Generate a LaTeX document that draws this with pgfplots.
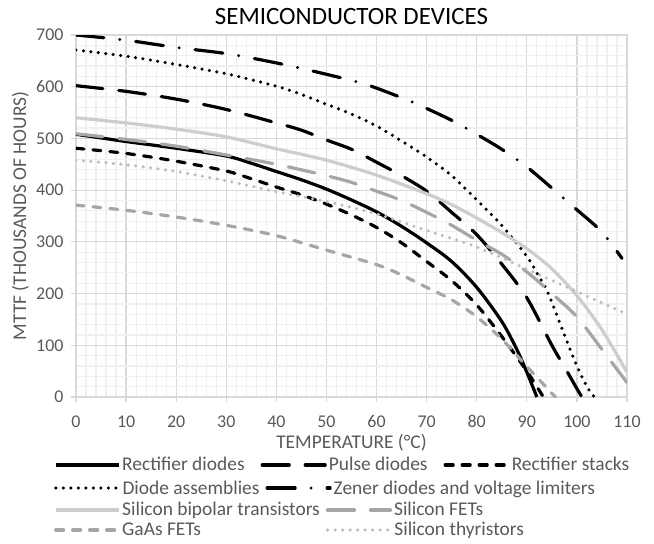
\documentclass[border=0pt]{standalone}
\usepackage{fontspec}
\setmainfont{Carlito}
\usepackage{pgfplots}
\pgfplotsset{compat=1.18}
\usepackage{pgfplotstable}

\definecolor{txt}{HTML}{595959}
\definecolor{gridmaj}{HTML}{D9D9D9}
\definecolor{gridmin}{HTML}{F0F0F0}
\definecolor{lgray}{HTML}{CDCDCD}
\definecolor{tgray}{HTML}{BDBDBD}
\definecolor{mgray}{HTML}{A6A6A6}

\tikzset{
  rd/.style={black, line width=3.2bp, solid},
  pd/.style={black, line width=3.2bp, line cap=round, dash pattern=on 27bp off 16bp},
  rs/.style={black, line width=3.2bp, line cap=round, dash pattern=on 8bp off 9bp},
  da/.style={black, line width=3.5bp, line cap=round, dash pattern=on 0bp off 7.5bp},
  zd/.style={black, line width=3.2bp, line cap=round, dash pattern=on 28bp off 16bp on 0bp off 16bp},
  sbt/.style={lgray, line width=3.2bp, solid},
  sfet/.style={mgray, line width=3.2bp, line cap=round, dash pattern=on 27bp off 16bp},
  gaas/.style={mgray, line width=3.2bp, line cap=round, dash pattern=on 8bp off 9bp},
  sthy/.style={tgray, line width=3.5bp, line cap=round, dash pattern=on 0bp off 7.5bp},
}

\pgfplotstableread{
T V
0 508
10 494
20 481
30 466
35 452
40 436
45 420
50 402
55 381
60 358
65 330
70 298
75 262
80 212
85 146
88 92
90 48
92 0
}\tRD
\pgfplotstableread{
T V
0 602
10 591
20 576
30 556
40 530
45 516
50 497
55 479
60 454
65 428
70 398
75 357
80 314
85 257
90 192
95 100
98 50
100 16
101 0
}\tPD
\pgfplotstableread{
T V
0 481
10 471
20 456
30 437
35 422
40 406
45 391
50 373
55 352
60 328
65 298
70 262
75 225
80 178
85 117
90 50
93.3 0
}\tRS
\pgfplotstableread{
T V
0 671
10 659
20 643
30 625
40 601
45 585
50 566
55 547
60 524
65 495
70 464
75 428
80 381
85 332
90 272
92 240
94 206
96 158
98 108
100 60
102 20
103.5 0
}\tDA
\pgfplotstableread{
T V
0 700
10 690
20 676
30 664
40 646
50 624
58 604
66.5 573
70 558
75 535
80 508
85 479
90 445
95 404
100 362
105 319
109 268
}\tZD
\pgfplotstableread{
T V
0 540
10 530
20 518
30 503
40 480
50 458
60 429
70 393
75 372
80 346
85 318
90 287
95 248
100 196
105 130
110 48
}\tSBT
\pgfplotstableread{
T V
0 509
10 498
20 485
30 468
40 450
50 428
55 415
60 398
65 380
70 357
75 332
80 303
85 276
90 242
95 200
100 155
105 92
110 28
}\tSFET
\pgfplotstableread{
T V
0 371
10 361
20 348
30 332
40 312
50 284
60 256
65 236
70 212
75 188
80 155
85 112
90 59
93 28
95.7 0
}\tGAAS
\pgfplotstableread{
T V
0 458
10 449
20 436
30 418
40 397
50 378
60 354
70 322
80 290
90 247
100 204
110 160
}\tSTHY

\pgfplotsset{
  legendaxis/.style={
    scale only axis, width=551bp, height=362bp, at={(0,0)}, anchor=south west,
    hide axis, xmin=0, xmax=1, ymin=0, ymax=1,
    legend columns=-1,
    legend image code/.code={\draw[##1] (0bp,0bp) -- (63bp,0bp);},
    legend style={draw=none, fill=none, inner sep=0pt, outer sep=0pt,
      font=\fontsize{19.5}{22}\selectfont, text=txt,
      nodes={inner sep=2bp}},
  },
}

\begin{document}
\begin{tikzpicture}
\useasboundingbox (-76bp,-147bp) rectangle (578bp,397bp);
\begin{axis}[
  scale only axis, width=551bp, height=362bp, at={(0,0)}, anchor=south west,
  xmin=0, xmax=110, ymin=0, ymax=700,
  xtick={0,10,...,110}, ytick={0,100,...,700},
  minor x tick num=4, minor y tick num=4,
  grid=both,
  major grid style={draw=gridmaj, line width=1.2bp},
  minor grid style={draw=gridmin, line width=1.2bp},
  axis line style={draw=gridmaj, line width=1.2bp},
  tick align=outside, major tick length=5bp, minor tick length=0pt,
  tick style={draw=gridmaj, line width=1.2bp},
  xtick pos=left, ytick pos=left,
  ticklabel style={font=\fontsize{18}{20}\selectfont, text=txt},
  /pgf/number format/assume math mode=true,
  xticklabel style={anchor=base, yshift=-25bp},
  yticklabel style={anchor=east, xshift=-4bp},
  title={SEMICONDUCTOR DEVICES},
  title style={at={(axis description cs:0.5,1)}, anchor=base, yshift=5bp,
    font=\fontsize{25}{28}\selectfont, text=black},
  xlabel={TEMPERATURE (°C)},
  xlabel style={at={(axis description cs:0.5,0)}, anchor=base, yshift=-51bp,
    font=\fontsize{19.5}{22}\selectfont, text=txt},
  ylabel={MTTF (THOUSANDS OF HOURS)},
  ylabel style={at={(axis description cs:-0.0907,0.5)}, anchor=base, rotate=0,
    font=\fontsize{19.5}{22}\selectfont, text=txt},
]
\addplot[rd, smooth, tension=0.5] table[x=T, y=V] {\tRD};
\addplot[pd, smooth, tension=0.5] table[x=T, y=V] {\tPD};
\addplot[rs, smooth, tension=0.5] table[x=T, y=V] {\tRS};
\addplot[da, smooth, tension=0.5] table[x=T, y=V] {\tDA};
\addplot[zd, smooth, tension=0.5] table[x=T, y=V] {\tZD};
\addplot[sbt, smooth, tension=0.5] table[x=T, y=V] {\tSBT};
\addplot[sfet, smooth, tension=0.5] table[x=T, y=V] {\tSFET};
\addplot[gaas, smooth, tension=0.5] table[x=T, y=V] {\tGAAS};
\addplot[sthy, smooth, tension=0.5] table[x=T, y=V] {\tSTHY};
\end{axis}

\begin{axis}[legendaxis,
  legend style={at={(axis description cs:-0.0399,-0.1878)}, anchor=west,
    /tikz/every even column/.append style={column sep=14bp}}]
\addlegendimage{rd}\addlegendentry{Rectifier diodes}
\addlegendimage{pd}\addlegendentry{Pulse diodes}
\addlegendimage{rs}\addlegendentry{Rectifier stacks}
\end{axis}
\begin{axis}[legendaxis,
  legend style={at={(axis description cs:-0.0399,-0.2514)}, anchor=west,
    /tikz/every even column/.append style={column sep=4bp}}]
\addlegendimage{da}\addlegendentry{Diode assemblies}
\addlegendimage{zd}\addlegendentry{Zener diodes and voltage limiters}
\end{axis}
\begin{axis}[legendaxis,
  legend style={at={(axis description cs:-0.0399,-0.312)}, anchor=west,
    /tikz/every even column/.append style={column sep=4bp}}]
\addlegendimage{sbt}\addlegendentry{Silicon bipolar transistors}
\addlegendimage{sfet}\addlegendentry{Silicon FETs}
\end{axis}
\begin{axis}[legendaxis,
  legend style={at={(axis description cs:-0.0399,-0.3674)}, anchor=west,
    /tikz/every even column/.append style={column sep=4bp}}]
\addlegendimage{gaas}\addlegendentry{\makebox[0pt][l]{GaAs FETs}\phantom{Silicon bipolar transistors}}
\addlegendimage{sthy}\addlegendentry{Silicon thyristors}
\end{axis}
\end{tikzpicture}
\end{document}
